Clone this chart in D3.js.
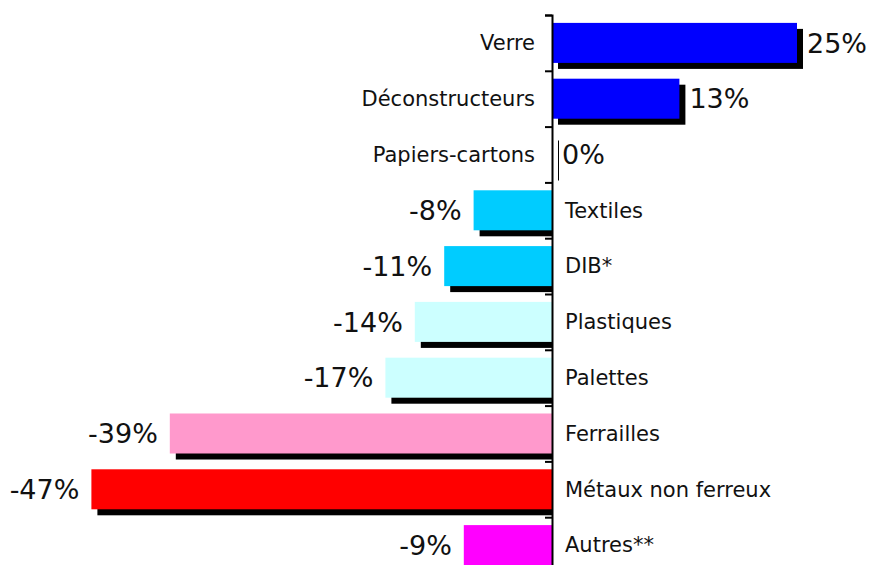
<!DOCTYPE html>
<html>
<head>
<meta charset="utf-8">
<script src="https://cdn.jsdelivr.net/npm/d3@7"></script>
<style>
  body { margin: 0; background: #fff; }
  svg { display: block; font-family: Verdana, "DejaVu Sans", sans-serif; }
</style>
</head>
<body>
<svg id="chart" width="871" height="565"></svg>
<script>
// ===== DONNÉES =====
const categories = ["Verre", "Déconstructeurs", "Papiers-cartons", "Textiles", "DIB*",
  "Plastiques", "Palettes", "Ferrailles", "Métaux non ferreux", "Autres**"];
const values = [25, 13, 0, -8, -11, -14, -17, -39, -47, -9];
const colors = ["#0000ff", "#0000ff", "#0000ff", "#00ccff", "#00ccff",
  "#ccffff", "#ccffff", "#ff99cc", "#ff0000", "#ff00ff"];

const data = categories.map((c, i) => ({ cat: c, val: values[i], color: colors[i] }));

// ===== ÉCHELLES =====
const svg = d3.select("#chart");
const plotTop = 15, plotBottom = 573;
const shadow = 6;

const x = d3.scaleLinear().domain([-50, 30]).range([62, 846]);
const y = d3.scaleBand()
  .domain(categories)
  .range([plotTop, plotBottom])
  .paddingInner(0.283)
  .paddingOuter(0.1415);
const yTicks = d3.scaleLinear().domain([0, categories.length]).range([plotTop, plotBottom]);

const x0 = x(0);

// ombres
svg.append("g").selectAll("rect")
  .data(data)
  .join("rect")
  .attr("x", d => d.val >= 0 ? x0 + shadow : x(d.val) + shadow)
  .attr("y", d => y(d.cat) + shadow)
  .attr("width", d => d.val >= 0 ? Math.max(1, x(d.val) - x0) : x0 - x(d.val) - shadow)
  .attr("height", y.bandwidth())
  .attr("fill", "#000");

// barres
svg.append("g").selectAll("rect")
  .data(data)
  .join("rect")
  .attr("x", d => Math.min(x(d.val), x0))
  .attr("y", d => y(d.cat))
  .attr("width", d => Math.abs(x(d.val) - x0))
  .attr("height", y.bandwidth())
  .attr("fill", d => d.color);

// axe vertical
const axis = svg.append("g")
  .attr("transform", `translate(${x0},0)`)
  .call(d3.axisLeft(yTicks).ticks(categories.length).tickSize(7).tickFormat(""));
axis.select(".domain").attr("stroke", "#000").attr("stroke-width", 2);
axis.selectAll(".tick line").attr("stroke", "#000").attr("stroke-width", 2);

// libellés des catégories
svg.append("g").selectAll("text")
  .data(data)
  .join("text")
  .attr("x", d => d.val >= 0 ? x0 - 17 : x0 + 13)
  .attr("y", d => y(d.cat) + y.bandwidth() / 2)
  .attr("dy", "0.35em")
  .attr("text-anchor", d => d.val >= 0 ? "end" : "start")
  .attr("font-size", 21)
  .attr("fill", "#111")
  .text(d => d.cat);

// valeurs
svg.append("g").selectAll("text")
  .data(data)
  .join("text")
  .attr("x", d => d.val >= 0 ? x(d.val) + 10 : x(d.val) - 12)
  .attr("y", d => y(d.cat) + y.bandwidth() / 2)
  .attr("dy", "0.36em")
  .attr("text-anchor", d => d.val >= 0 ? "start" : "end")
  .attr("font-size", 27)
  .attr("fill", "#111")
  .text(d => d.val + "%");
</script>
</body>
</html>
